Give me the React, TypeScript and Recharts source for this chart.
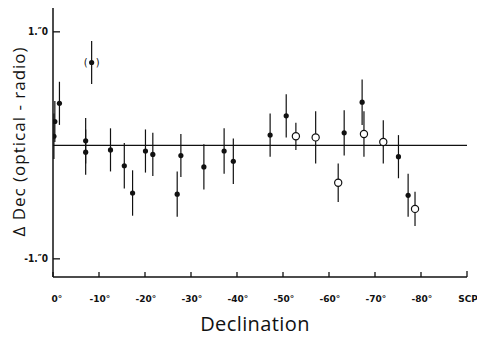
import React from 'react';
import { ScatterChart, Scatter, ErrorBar, XAxis, YAxis, ReferenceLine } from 'recharts';

// declination (deg), Δ Dec (arcsec), 1-sigma error
const filledDec = [-0.2, -0.4, -1.4, -7.1, -7.1, -12.5, -15.5, -17.3, -20.1, -21.7, -27.0, -27.8, -32.8, -37.2, -39.2, -47.2, -50.7, -63.3, -67.2, -75.1, -77.2];
const filledVal = [0.08, 0.21, 0.37, 0.04, -0.06, -0.04, -0.18, -0.42, -0.05, -0.08, -0.43, -0.09, -0.19, -0.05, -0.14, 0.09, 0.26, 0.11, 0.38, -0.1, -0.44];
const filledErr = [0.2, 0.18, 0.19, 0.2, 0.2, 0.19, 0.2, 0.2, 0.19, 0.19, 0.2, 0.19, 0.2, 0.2, 0.2, 0.19, 0.19, 0.2, 0.2, 0.19, 0.19];

const openDec = [-52.8, -57.1, -62.0, -67.6, -71.8, -78.7];
const openVal = [0.08, 0.07, -0.33, 0.1, 0.03, -0.56];
const openErr = [0.12, 0.23, 0.17, 0.2, 0.19, 0.15];

const doubtfulDec = [-8.4];
const doubtfulVal = [0.73];
const doubtfulErr = [0.19];

const xTicks = [0, -10, -20, -30, -40, -50, -60, -70, -80, -90];
const yTicks = [1, -1];

const build = (dec: number[], val: number[], err: number[]) =>
  dec.map((d, i) => ({ dec: d, val: val[i], err: err[i] }));

const filledData = build(filledDec, filledVal, filledErr);
const openData = build(openDec, openVal, openErr);
const doubtfulData = build(doubtfulDec, doubtfulVal, doubtfulErr);

const INK = '#111';
const TITLE_FONT = '"Open Sans", "DejaVu Sans", sans-serif';

const XTick = (props: any) => {
  const { x, y, payload } = props;
  const v = payload.value;
  return (
    <g>
      <line x1={x} y1={y} x2={x} y2={y - (v === -90 ? 6 : 5)} stroke={INK} strokeWidth={1.3} />
      <text
        x={v === 0 ? x + 4 : x + 1}
        y={y + 25}
        textAnchor="middle"
        fontSize={9}
        fontWeight="bold"
        fontFamily='"DejaVu Sans", sans-serif'
        fill={INK}
      >
        {v === -90 ? 'SCP' : `${v}°`}
      </text>
    </g>
  );
};

const YTick = (props: any) => {
  const { x, y, payload } = props;
  const v = payload.value;
  return (
    <g>
      <line x1={x} y1={y} x2={x + 7} y2={y} stroke={INK} strokeWidth={1.3} />
      <text
        x={x - 5}
        y={y + 3}
        textAnchor="end"
        fontSize={10}
        fontWeight="bold"
        fontFamily='"DejaVu Sans Condensed", "DejaVu Sans", sans-serif'
        fill={INK}
      >
        {v < 0 ? '-1.″0' : '1.″0'}
      </text>
    </g>
  );
};

const FilledDot = (props: any) => (
  <circle cx={props.cx} cy={props.cy} r={2.6} fill={INK} />
);

const OpenDot = (props: any) => (
  <circle cx={props.cx} cy={props.cy} r={3.6} fill="#fff" stroke={INK} strokeWidth={1.2} />
);

const DoubtfulDot = (props: any) => (
  <g>
    <circle cx={props.cx} cy={props.cy} r={2.6} fill={INK} />
    <text x={props.cx - 6} y={props.cy + 3.5} textAnchor="middle" fontSize={10} fill={INK} stroke="none" fontFamily='"DejaVu Sans", sans-serif'>(</text>
    <text x={props.cx + 6} y={props.cy + 3.5} textAnchor="middle" fontSize={10} fill={INK} stroke="none" fontFamily='"DejaVu Sans", sans-serif'>)</text>
  </g>
);

const YTitle = (props: any) => {
  const { viewBox } = props;
  const cx = viewBox.x + 18;
  const cy = viewBox.y + viewBox.height / 2 - 1;
  return (
    <text
      x={cx}
      y={cy}
      transform={`rotate(-90, ${cx}, ${cy})`}
      textAnchor="middle"
      dominantBaseline="central"
      fontSize={17}
      letterSpacing={1}
      fontFamily={TITLE_FONT}
      fill={INK}
    >
      Δ Dec (optical - radio)
    </text>
  );
};

const XTitle = (props: any) => {
  const { viewBox } = props;
  return (
    <text
      x={viewBox.x + viewBox.width / 2 - 5}
      y={viewBox.y + 54}
      textAnchor="middle"
      fontSize={20}
      letterSpacing={0.4}
      fontFamily={TITLE_FONT}
      fill={INK}
    >
      Declination
    </text>
  );
};

export default function App() {
  return (
    <div style={{ position: 'absolute', left: 0, top: 0, background: '#fff' }}>
      <ScatterChart width={477} height={337} margin={{ top: 8, right: 10, left: 0, bottom: 0 }}>
        <XAxis
          type="number"
          dataKey="dec"
          domain={[-90, 0]}
          reversed
          ticks={xTicks}
          interval={0}
          height={60}
          tickSize={0}
          tickMargin={0}
          tickLine={false}
          tick={<XTick />}
          axisLine={{ stroke: INK, strokeWidth: 1.5 }}
          allowDataOverflow
          label={{ content: <XTitle /> }}
        />
        <YAxis
          type="number"
          dataKey="val"
          domain={[-1.16, 1.21]}
          ticks={yTicks}
          interval={0}
          width={53}
          tickSize={0}
          tickMargin={0}
          tickLine={false}
          tick={<YTick />}
          axisLine={{ stroke: INK, strokeWidth: 1.5 }}
          allowDataOverflow
          label={{ content: <YTitle /> }}
        />
        <ReferenceLine y={0} stroke={INK} strokeWidth={1.3} />
        <Scatter data={filledData} fill={INK} shape={<FilledDot />} isAnimationActive={false}>
          <ErrorBar dataKey="err" direction="y" width={0} stroke={INK} strokeWidth={1.2} isAnimationActive={false} />
        </Scatter>
        <Scatter data={openData} fill={INK} shape={<OpenDot />} isAnimationActive={false}>
          <ErrorBar dataKey="err" direction="y" width={0} stroke={INK} strokeWidth={1.2} isAnimationActive={false} />
        </Scatter>
        <Scatter data={doubtfulData} fill={INK} shape={<DoubtfulDot />} isAnimationActive={false}>
          <ErrorBar dataKey="err" direction="y" width={0} stroke={INK} strokeWidth={1.2} isAnimationActive={false} />
        </Scatter>
      </ScatterChart>
    </div>
  );
}
